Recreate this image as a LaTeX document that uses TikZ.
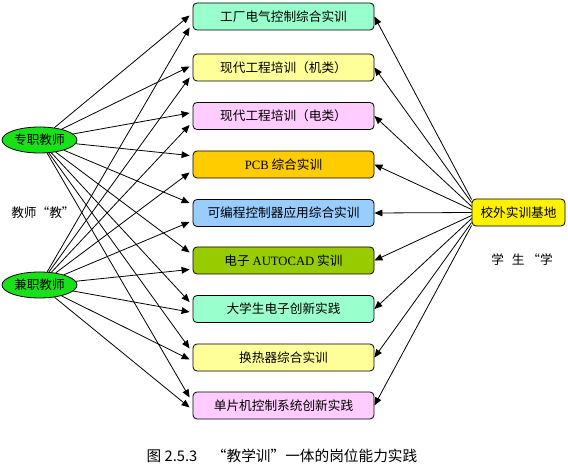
\documentclass[tikz,border=0pt]{standalone}
\usepackage{fontspec}
\setmainfont{Noto Sans CJK SC}
\newfontfamily\lat{Liberation Serif}
\usetikzlibrary{shapes.geometric,arrows.meta}

\definecolor{mint}{HTML}{99FFCC}
\definecolor{lemon}{HTML}{FFFF99}
\definecolor{pinkish}{HTML}{FFCCFF}
\definecolor{gold}{HTML}{FFCC00}
\definecolor{skyblue}{HTML}{99CCFF}
\definecolor{olive}{HTML}{99CC00}
\definecolor{tgreen}{RGB}{25,225,25}

\begin{document}
\begin{tikzpicture}[
    x=0.75pt, y=-0.75pt,
    course/.style={draw, rounded corners=3pt, line width=0.6pt, inner sep=0pt,
        minimum width=135.75pt, minimum height=20.25pt, font=\fontsize{9.5}{10}\selectfont},
    teacher/.style={ellipse, draw, fill=tgreen, line width=0.6pt, inner sep=0pt,
        minimum width=56.25pt, minimum height=19.5pt, font=\fontsize{9.5}{10}\selectfont},
    base/.style={draw, fill=yellow, rounded corners=3pt, line width=0.6pt, inner sep=0pt,
        minimum width=69.75pt, minimum height=20.25pt, font=\fontsize{9.5}{10}\selectfont},
    side/.style={font=\fontsize{9.5}{10}\selectfont},
    link/.style={line width=0.6pt, -{Triangle[length=6pt,width=5pt]}}
]
\useasboundingbox (0,0) rectangle (568,474);

% Courses
\node[course, fill=mint]    (b1) at (283.5,16.5)  {工厂电气控制综合实训};
\node[course, fill=lemon]   (b2) at (283.5,67.5)  {现代工程培训（机类）};
\node[course, fill=pinkish] (b3) at (283.5,116)   {现代工程培训（电类）};
\node[course, fill=gold]    (b4) at (283.5,164.5) {{\lat PCB} 综合实训};
\node[course, fill=skyblue] (b5) at (283.5,213)   {可编程控制器应用综合实训};
\node[course, fill=olive]   (b6) at (283.5,260.5) {电子 {\lat AUTOCAD} 实训};
\node[course, fill=mint]    (b7) at (283.5,309)   {大学生电子创新实践};
\node[course, fill=lemon]   (b8) at (283.5,357.5) {换热器综合实训};
\node[course, fill=pinkish] (b9) at (283.5,405.5) {单片机控制系统创新实践};

% Teachers
\node[teacher] (zz) at (39.5,140) {专职教师};
\node[teacher] (jz) at (39.5,285) {兼职教师};
\node[side] (jiao) at (43,213) {教师“教”};

% Base
\node[base] (xw) at (518.5,212.5) {校外实训基地};
\node[side] (xue) at (522,260) {学\hspace{6pt}生\hspace{2pt}“学};

% Caption
\node[font=\fontsize{11}{12}\selectfont] (cap) at (282,456) {图 2.5.3\quad“教学训”一体的岗位能力实践};

% Arrows
\foreach \b/\u/\d in {b1/-1/11, b2/-1/10, b3/-3/9, b4/-9/8, b5/-10/9,
                      b6/-8/9, b7/-7/3, b8/-9/2, b9/-8/2} {
    \draw[link] (zz) -- ([shift={(-3,\u)}]\b.west);
    \draw[link] (jz) -- ([shift={(-3,\d)}]\b.west);
}
\foreach \b/\s in {b1/-13, b2/-10, b3/-6, b4/-3, b5/0, b6/3, b7/6, b8/10, b9/13}
    \draw[link] ([shift={(0,\s)}]xw.west) -- (\b.east);

\end{tikzpicture}
\end{document}
